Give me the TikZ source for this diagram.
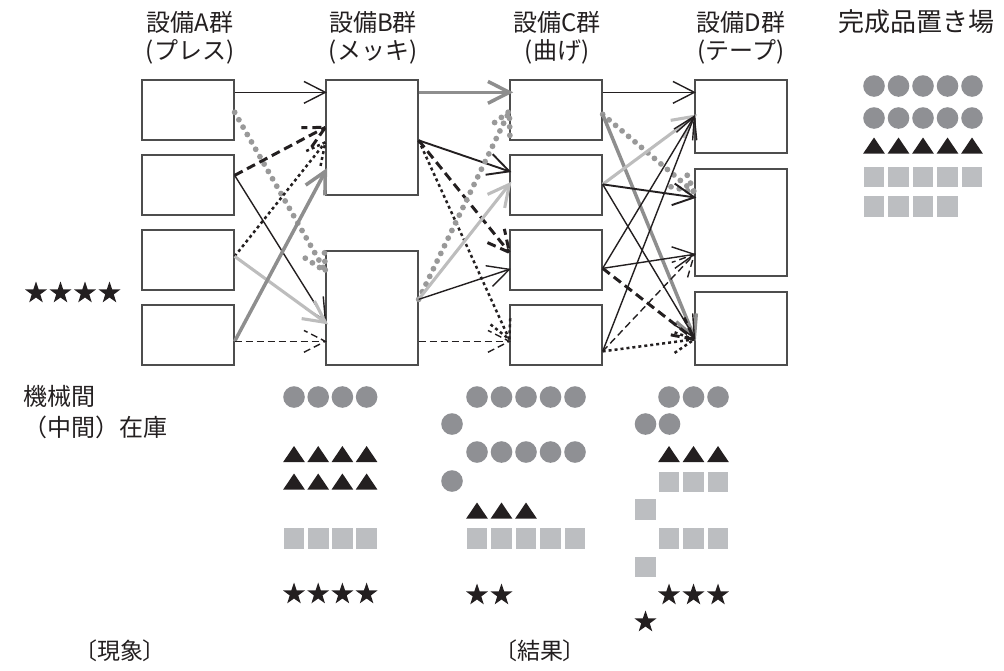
\documentclass[tikz,border=0pt]{standalone}
\usepackage{fontspec}
\newfontfamily\jp{Noto Sans CJK JP}
\newfontfamily\jpp[RawFeature=+palt]{Noto Sans CJK JP}
\usetikzlibrary{calc,shapes.geometric}
\definecolor{cgray}{HTML}{8F9094}
\definecolor{sgray}{HTML}{BCBEC1}
\definecolor{ink}{HTML}{231F20}
\definecolor{boxc}{HTML}{4D4D4D}
\definecolor{mgray}{HTML}{8E8E8E}
\definecolor{lgray}{HTML}{BDBDBD}
\definecolor{dgray}{HTML}{999999}
\tikzset{
 box/.style={draw=boxc, line width=1.3pt, minimum width=92pt, inner sep=0pt},
 lbl/.style={font=\jp\fontsize{24}{28}\selectfont, inner sep=0pt, text=ink},
 lblp/.style={font=\jpp\fontsize{23}{27}\selectfont, inner sep=0pt, text=ink},
 blk/.style={draw=ink, line width=1.4pt},
 blkm/.style={draw=ink, line width=1.9pt},
 mg/.style={draw=mgray, line width=3.5pt},
 lg/.style={draw=lgray, line width=3.1pt},
 gdot/.style={draw=dgray, line width=5.8pt, line cap=round, dash pattern=on 0pt off 8.5pt},
 bdot/.style={draw=ink, line width=2.5pt, dash pattern=on 3pt off 3pt},
 bdasht/.style={draw=ink, line width=3pt, dash pattern=on 9pt off 5pt},
 bdash/.style={draw=ink, line width=1.4pt, dash pattern=on 7pt off 4pt},
 starsh/.style={star, star points=5, star point ratio=2.55, minimum size=23pt, inner sep=0pt, fill=ink},
}
\newcommand\conn[3]{\draw[#1] (#2) -- (#3);
 \draw[#1] ($(#3)!24pt!27:(#2)$) -- (#3) -- ($(#3)!24pt!-27:(#2)$);}
\newcommand\cir[2]{\fill[cgray] (#1,#2) circle (10.8pt);}
\newcommand\tri[2]{\fill[ink] (#1-10.8,#2+8) -- (#1+10.8,#2+8) -- (#1,#2-8) -- cycle;}
\newcommand\sqr[2]{\fill[sgray] (#1-10.3,#2-10.3) rectangle (#1+10.3,#2+10.3);}
\newcommand\str[2]{\node[starsh] at (#1,#2) {};}
\begin{document}
\begin{tikzpicture}[x=1pt,y=-1pt]
\useasboundingbox (0,0) rectangle (1004,670);
% titles
\node[lbl] (tA) at (190,22) {設備A群};
\node[lbl] (tA2) at (190,52) {(プレス)};
\node[lbl] (tB) at (373,22) {設備B群};
\node[lbl] (tB2) at (373,52) {(メッキ)};
\node[lbl] (tC) at (557,22) {設備C群};
\node[lbl] (tC2) at (557,52) {(曲げ)};
\node[lbl] (tD) at (741,22) {設備D群};
\node[lbl] (tD2) at (741,52) {(テープ)};
\node[lbl, font=\jp\fontsize{26}{30}\selectfont] (tE) at (916,22) {完成品置き場};
\node[lbl, anchor=west] (inv1) at (23,396) {機械間};
\node[lbl, anchor=west] (inv2) at (23,427) {（中間）在庫};
\node[lblp] (res1) at (120,651) {〔現象〕};
\node[lblp] (res2) at (540,651) {〔結果〕};
% boxes
\node[box, minimum height=60pt] (A1) at (188,110) {};
\node[box, minimum height=60pt] (A2) at (188,185) {};
\node[box, minimum height=60pt] (A3) at (188,260) {};
\node[box, minimum height=60pt] (A4) at (188,335) {};
\node[box, minimum height=115pt] (B1) at (372,137.5) {};
\node[box, minimum height=114pt] (B2) at (372,308) {};
\node[box, minimum height=60pt] (C1) at (556,110) {};
\node[box, minimum height=60pt] (C2) at (556,185) {};
\node[box, minimum height=60pt] (C3) at (556,260) {};
\node[box, minimum height=60pt] (C4) at (556,335) {};
\node[box, minimum height=73pt] (D1) at (741,116.5) {};
\node[box, minimum height=107pt] (D2) at (741,222.5) {};
\node[box, minimum height=73pt] (D3) at (741,328.5) {};
% ports
\coordinate (a1a) at ($(A1.north east)+(0,13)$);
\coordinate (a1b) at ($(A1.north east)+(0,33)$);
\coordinate (a2a) at ($(A2.north east)+(0,21)$);
\coordinate (a3a) at ($(A3.north east)+(0,27)$);
\coordinate (a4a) at ($(A4.north east)+(0,37)$);
\coordinate (b1i1) at ($(B1.north west)+(0,13)$);
\coordinate (b1i2) at ($(B1.north west)+(0,48)$);
\coordinate (b1i3) at ($(B1.north west)+(0,63)$);
\coordinate (b1i4) at ($(B1.north west)+(0,92)$);
\coordinate (b2i1) at ($(B2.north west)+(0,21)$);
\coordinate (b2i2) at ($(B2.north west)+(0,70)$);
\coordinate (b2i3) at ($(B2.north west)+(0,72)$);
\coordinate (b2i4) at ($(B2.north west)+(0,91)$);
\coordinate (b1o1) at ($(B1.north east)+(0,13)$);
\coordinate (b1o2) at ($(B1.north east)+(0,61)$);
\coordinate (b2o1) at ($(B2.north east)+(0,49)$);
\coordinate (b2o2) at ($(B2.north east)+(0,91)$);
\coordinate (c1i1) at ($(C1.north west)+(0,13)$);
\coordinate (c1i2) at ($(C1.north west)+(0,32)$);
\coordinate (c2i1) at ($(C2.north west)+(0,17)$);
\coordinate (c2i2) at ($(C2.north west)+(0,30)$);
\coordinate (c3i1) at ($(C3.north west)+(0,23)$);
\coordinate (c3i2) at ($(C3.north west)+(0,40)$);
\coordinate (c4i1) at ($(C4.north west)+(0,35)$);
\coordinate (c4i2) at ($(C4.north west)+(0,37)$);
\coordinate (c1o1) at ($(C1.north east)+(0,13)$);
\coordinate (c1o2) at ($(C1.north east)+(0,35)$);
\coordinate (c2o1) at ($(C2.north east)+(0,30)$);
\coordinate (c3o1) at ($(C3.north east)+(0,39)$);
\coordinate (c4o1) at ($(C4.north east)+(0,47)$);
\coordinate (d1i1) at ($(D1.north west)+(0,13)$);
\coordinate (d1i2) at ($(D1.north west)+(0,37)$);
\coordinate (d2i1) at ($(D2.north west)+(0,24)$);
\coordinate (d2i2) at ($(D2.north west)+(0,29)$);
\coordinate (d2i3) at ($(D2.north west)+(0,86)$);
\coordinate (d3i1) at ($(D3.north west)+(0,46)$);
\coordinate (d3i2) at ($(D3.north west)+(0,48)$);
% A -> B
\conn{blk}{a1a}{b1i1}
\conn{gdot}{a1b}{b2i1}
\conn{bdasht}{a2a}{b1i2}
\conn{blk}{a2a}{b2i2}
\conn{bdot}{a3a}{b1i3}
\conn{lg}{a3a}{b2i3}
\conn{mg}{a4a}{b1i4}
\conn{bdash}{a4a}{b2i4}
% B -> C
\conn{mg}{b1o1}{c1i1}
\conn{blkm}{b1o2}{c2i1}
\conn{bdasht}{b1o2}{c3i1}
\conn{bdot}{b1o2}{c4i1}
\conn{gdot}{b2o1}{c1i2}
\conn{lg}{b2o1}{c2i2}
\conn{blk}{b2o1}{c3i2}
\conn{bdash}{b2o2}{c4i2}
% C -> D
\conn{blk}{c1o1}{d1i1}
\conn{gdot}{c1o2}{d2i1}
\conn{mg}{c1o2}{d3i1}
\conn{lg}{c2o1}{d1i2}
\conn{blkm}{c2o1}{d2i2}
\conn{blk}{c2o1}{d3i1}
\conn{blk}{c3o1}{d1i2}
\conn{blk}{c3o1}{d2i3}
\conn{bdasht}{c3o1}{d3i2}
\conn{blk}{c4o1}{d1i2}
\conn{bdash}{c4o1}{d2i3}
\conn{bdot}{c4o1}{d3i2}
% finished goods
\foreach \i in {0,...,4}{\cir{874+24.5*\i}{86} \cir{874+24.5*\i}{118} \tri{874+24.5*\i}{145.5} \sqr{874+24.5*\i}{177}}
\foreach \i in {0,...,3}{\sqr{874+24.5*\i}{206.5}}
% left stars
\foreach \i in {0,...,3}{\str{36+24.5*\i}{293}}
% column B
\foreach \i in {0,...,3}{\cir{294+24.2*\i}{397} \tri{294+24.2*\i}{454} \tri{294+24.2*\i}{481.5} \sqr{294+24.2*\i}{538.5} \str{294+24.2*\i}{594}}
% column C
\foreach \i in {0,...,4}{\cir{477+24.5*\i}{397} \cir{477+24.5*\i}{452} \sqr{477+24.5*\i}{538.5}}
\cir{452}{424} \cir{452}{481}
\foreach \i in {0,...,2}{\tri{477+24.5*\i}{510.5}}
\foreach \i in {0,...,1}{\str{477+24.5*\i}{595}}
% column D
\foreach \i in {0,...,2}{\cir{669+24.5*\i}{397} \tri{669+24.5*\i}{454} \sqr{669+24.5*\i}{482} \sqr{669+24.5*\i}{538.5} \str{669+24.5*\i}{595}}
\cir{645.5}{424} \cir{669.5}{424}
\sqr{645.5}{509.5} \sqr{645.5}{567}
\str{645.5}{622}
\end{tikzpicture}
\end{document}
